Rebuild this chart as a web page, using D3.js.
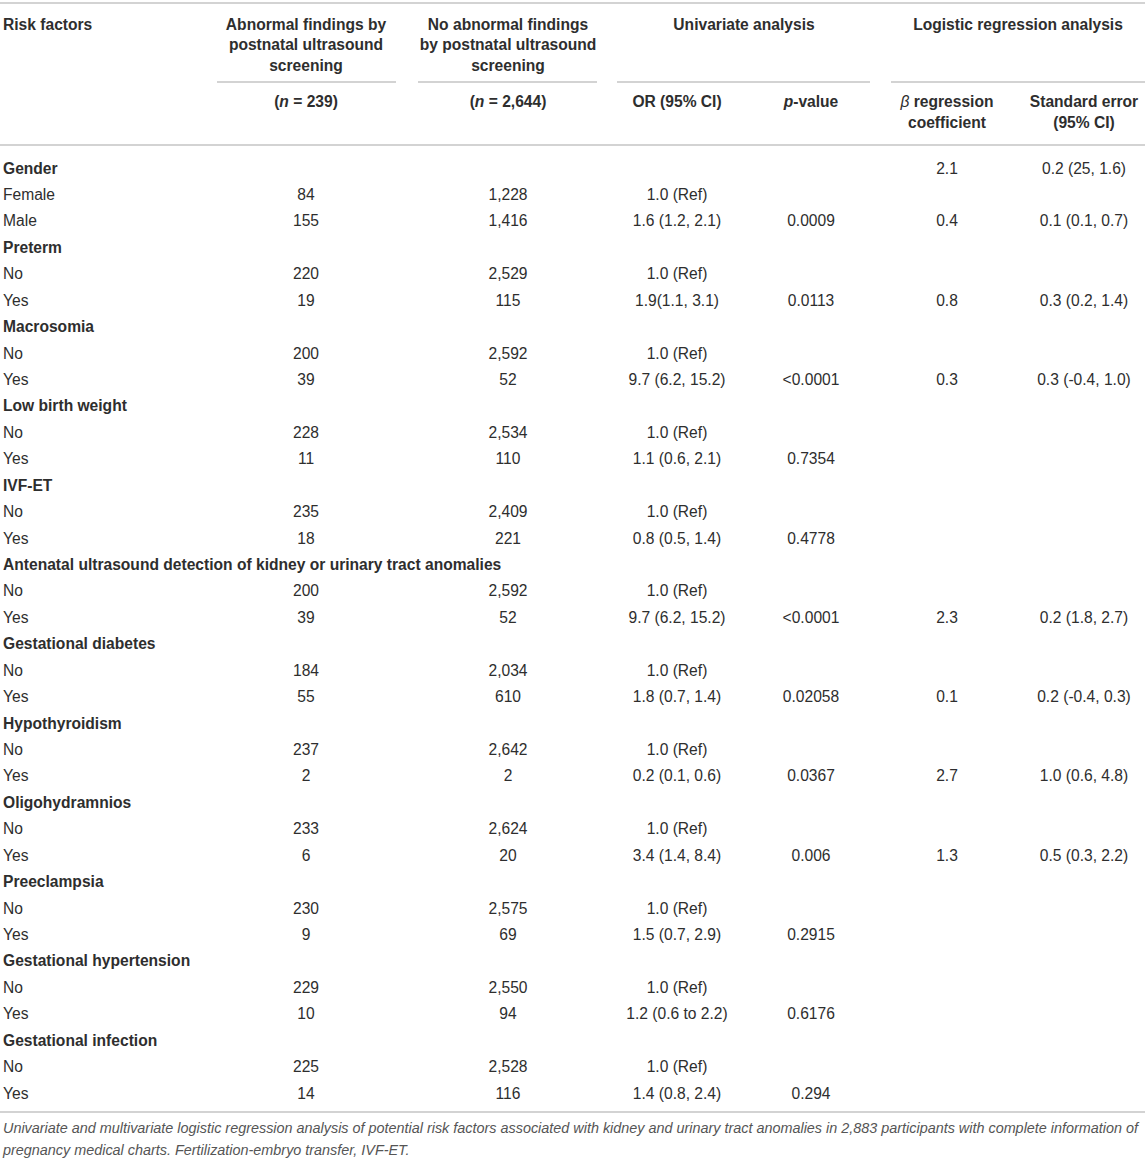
<!DOCTYPE html>
<html>
<head>
<meta charset="utf-8">
<script src="https://cdn.jsdelivr.net/npm/d3@7"></script>
<style>
  body { margin: 0; background: #fff; }
  svg text { font-family: "Liberation Sans", Arial, sans-serif; fill: #2e2e2e; }
</style>
</head>
<body>
<div id="chart"></div>
<script>
// table content
const factors = ["Gender", "Preterm", "Macrosomia", "Low birth weight", "IVF-ET",
  "Antenatal ultrasound detection of kidney or urinary tract anomalies",
  "Gestational diabetes", "Hypothyroidism", "Oligohydramnios", "Preeclampsia",
  "Gestational hypertension", "Gestational infection"];
const levels = [["Female", "Male"], ["No", "Yes"], ["No", "Yes"], ["No", "Yes"], ["No", "Yes"],
  ["No", "Yes"], ["No", "Yes"], ["No", "Yes"], ["No", "Yes"], ["No", "Yes"], ["No", "Yes"], ["No", "Yes"]];
const abnormal = [[84, 155], [220, 19], [200, 39], [228, 11], [235, 18], [200, 39],
  [184, 55], [237, 2], [233, 6], [230, 9], [229, 10], [225, 14]];
const normal = [[1228, 1416], [2529, 115], [2592, 52], [2534, 110], [2409, 221], [2592, 52],
  [2034, 610], [2642, 2], [2624, 20], [2575, 69], [2550, 94], [2528, 116]];
const orCI = [["1.0 (Ref)", "1.6 (1.2, 2.1)"], ["1.0 (Ref)", "1.9(1.1, 3.1)"], ["1.0 (Ref)", "9.7 (6.2, 15.2)"],
  ["1.0 (Ref)", "1.1 (0.6, 2.1)"], ["1.0 (Ref)", "0.8 (0.5, 1.4)"], ["1.0 (Ref)", "9.7 (6.2, 15.2)"],
  ["1.0 (Ref)", "1.8 (0.7, 1.4)"], ["1.0 (Ref)", "0.2 (0.1, 0.6)"], ["1.0 (Ref)", "3.4 (1.4, 8.4)"],
  ["1.0 (Ref)", "1.5 (0.7, 2.9)"], ["1.0 (Ref)", "1.2 (0.6 to 2.2)"], ["1.0 (Ref)", "1.4 (0.8, 2.4)"]];
const pValues = ["0.0009", "0.0113", "<0.0001", "0.7354", "0.4778", "<0.0001",
  "0.02058", "0.0367", "0.006", "0.2915", "0.6176", "0.294"];
// logistic regression: [factor row, second level row]
const betaCoef = [["2.1", "0.4"], ["", "0.8"], ["", "0.3"], ["", ""], ["", ""], ["", "2.3"],
  ["", "0.1"], ["", "2.7"], ["", "1.3"], ["", ""], ["", ""], ["", ""]];
const stdErr = [["0.2 (25, 1.6)", "0.1 (0.1, 0.7)"], ["", "0.3 (0.2, 1.4)"], ["", "0.3 (-0.4, 1.0)"],
  ["", ""], ["", ""], ["", "0.2 (1.8, 2.7)"], ["", "0.2 (-0.4, 0.3)"], ["", "1.0 (0.6, 4.8)"],
  ["", "0.5 (0.3, 2.2)"], ["", ""], ["", ""], ["", ""]];
const footnote = [
  "Univariate and multivariate logistic regression analysis of potential risk factors associated with kidney and urinary tract anomalies in 2,883 participants with complete information of",
  "pregnancy medical charts. Fertilization-embryo transfer, IVF-ET."
];

const width = 1145, height = 1159;
const fs = 15.6;
const fmt = d3.format(",");

// flatten into rows
const rows = [];
factors.forEach((f, i) => {
  rows.push({ label: f, bold: true, cells: { beta: betaCoef[i][0], se: stdErr[i][0] } });
  levels[i].forEach((lv, j) => {
    rows.push({
      label: lv, bold: false,
      cells: {
        abn: fmt(abnormal[i][j]), nor: fmt(normal[i][j]), or: orCI[i][j],
        p: j === 1 ? pValues[i] : "",
        beta: j === 1 ? betaCoef[i][1] : "",
        se: j === 1 ? stdErr[i][1] : ""
      }
    });
  });
});

const svg = d3.select("#chart").append("svg")
  .attr("width", width).attr("height", height);

const colKeys = ["abn", "nor", "or", "p", "beta", "se"];
const x = d3.scaleOrdinal().domain(colKeys).range([306, 508, 677, 811, 947, 1084]);
const y = d3.scaleLinear().domain([0, rows.length - 1]).range([168, 1093]);

const rule = (x1, x2, yy) => svg.append("line")
  .attr("x1", x1).attr("x2", x2).attr("y1", yy).attr("y2", yy)
  .attr("stroke", "#c4c4c4").attr("stroke-width", 1.5);

rule(0, width, 3);
rule(0, width, 145);
rule(0, width, 1112);
rule(217, 396, 82);
rule(418, 597, 82);
rule(617, 870, 82);
rule(891, width, 82);

// header
const head = svg.append("g").attr("font-weight", "bold").attr("font-size", fs);
head.append("text").attr("x", 3).attr("y", 29.5).text("Risk factors");

const multi = (cx, y0, lines) => {
  lines.forEach((l, k) => head.append("text")
    .attr("x", cx).attr("y", y0 + k * 20.5)
    .attr("text-anchor", "middle").text(l));
};
multi(x("abn"), 29.5, ["Abnormal findings by", "postnatal ultrasound", "screening"]);
multi(x("nor"), 29.5, ["No abnormal findings", "by postnatal ultrasound", "screening"]);
multi(744, 29.5, ["Univariate analysis"]);
multi(1018, 29.5, ["Logistic regression analysis"]);

const nText = (cx, n) => {
  const t = head.append("text").attr("x", cx).attr("y", 107).attr("text-anchor", "middle");
  t.append("tspan").text("(");
  t.append("tspan").attr("font-style", "italic").text("n");
  t.append("tspan").text(" = " + n + ")");
};
nText(x("abn"), "239");
nText(x("nor"), "2,644");
multi(x("or"), 107, ["OR (95% CI)"]);
const pv = head.append("text").attr("x", x("p")).attr("y", 107).attr("text-anchor", "middle");
pv.append("tspan").attr("font-style", "italic").text("p");
pv.append("tspan").text("-value");
const b = head.append("text").attr("x", x("beta")).attr("y", 107).attr("text-anchor", "middle");
b.append("tspan").attr("font-style", "italic").attr("font-weight", "normal").text("β");
b.append("tspan").text(" regression");
multi(x("beta"), 127.5, ["coefficient"]);
multi(x("se"), 107, ["Standard error", "(95% CI)"]);

// body
const body = svg.append("g").attr("font-size", fs);
const rowG = body.selectAll("g.row").data(rows).join("g")
  .attr("class", "row")
  .attr("transform", (d, i) => `translate(0,${y(i) + 5.6})`);

rowG.append("text")
  .attr("x", 3)
  .attr("font-weight", d => d.bold ? "bold" : "normal")
  .text(d => d.label);

rowG.selectAll("text.cell")
  .data(d => colKeys.filter(k => d.cells[k]).map(k => ({ k, v: d.cells[k] })))
  .join("text")
  .attr("class", "cell")
  .attr("x", d => x(d.k))
  .attr("text-anchor", "middle")
  .text(d => d.v);

// footnote
svg.append("g").selectAll("text").data(footnote).join("text")
  .attr("x", 3)
  .attr("y", (d, i) => 1133 + i * 22)
  .attr("font-size", 14.4)
  .attr("font-style", "italic")
  .style("fill", "#555")
  .text(d => d);
</script>
</body>
</html>
